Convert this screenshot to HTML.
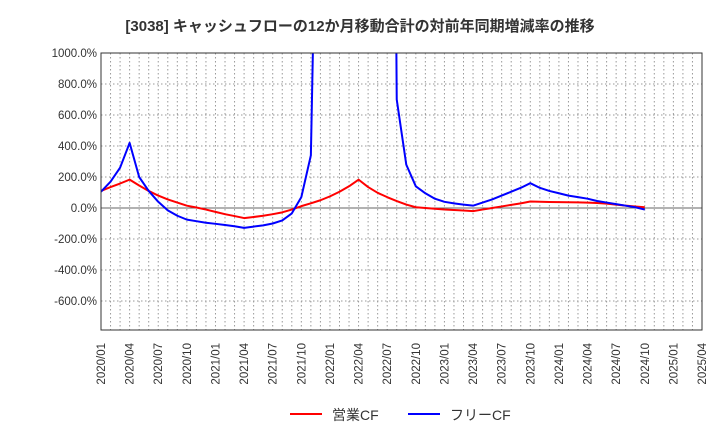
<!DOCTYPE html>
<html><head><meta charset="utf-8"><style>
body{margin:0;background:#fff;}
svg{display:block;font-family:"Liberation Sans","Noto Sans CJK JP",sans-serif;}
</style></head><body>
<svg id="c" width="720" height="440">
<text x="360" y="31" text-anchor="middle" font-size="15" font-weight="bold" fill="#333">[3038]  キャッシュフローの12か月移動合計の対前年同期増減率の推移</text>
<g id="grid"></g><g id="axes"></g>
<defs><clipPath id="clip"><rect x="101" y="53" width="601" height="277"/></clipPath></defs>
<g id="series" clip-path="url(#clip)"></g>
<rect x="101" y="53" width="601" height="277" fill="none" stroke="#333" stroke-width="1"/>
<g>
<line x1="290" y1="414" x2="322" y2="414" stroke="#f00" stroke-width="2"/>
<text x="332" y="420" font-size="14" fill="#333">営業CF</text>
<line x1="408" y1="414" x2="440" y2="414" stroke="#00f" stroke-width="2"/>
<text x="450" y="420" font-size="14" fill="#333">フリーCF</text>
</g>
</svg>
<script>
const yTicks=[1000,800,600,400,200,0,-200,-400,-600];
const xLabels=["2020/01","2020/04","2020/07","2020/10","2021/01","2021/04","2021/07","2021/10","2022/01","2022/04","2022/07","2022/10","2023/01","2023/04","2023/07","2023/10","2024/01","2024/04","2024/07","2024/10","2025/01","2025/04"];
const operatingCF=[110,135,158,183,145,110,80,55,35,15,3,-10,-25,-40,-52,-65,-58,-50,-40,-28,-10,12,30,50,75,105,140,183,135,98,70,45,22,5,0,-5,-10,-13,-16,-20,-10,0,10,20,30,42,40,39,38,37,36,35,32,28,22,15,10,5];
const freeCF=[105,170,260,420,200,110,40,-15,-50,-75,-85,-95,-102,-110,-118,-128,-120,-112,-100,-80,-35,70,340,3500,5000,6000,6000,6000,6000,7000,9000,700,280,140,95,60,40,30,22,15,35,55,80,105,130,160,130,110,95,80,70,60,45,35,25,15,5,-10];
const NS="http://www.w3.org/2000/svg";
const X0=101,X1=702,Y0=53,Y1=330,MONTHS=63;
const xs=m=>X0+m*(X1-X0)/MONTHS;
const ys=v=>208-v*31/200;
function mk(t,a,p){const e=document.createElementNS(NS,t);for(const k in a)e.setAttribute(k,a[k]);p.appendChild(e);return e;}
const grid=document.getElementById('grid'),axes=document.getElementById('axes'),ser=document.getElementById('series');
for(let m=1;m<MONTHS;m++){
 const l=mk('line',{x1:xs(m),x2:xs(m),y1:Y0,y2:Y1,stroke:'#999','stroke-dasharray':'1.5,2.5','stroke-width':1},grid);
 
 
}
yTicks.forEach(v=>{
 const y=ys(v);
 const l=mk('line',{x1:X0,x2:X1,y1:y,y2:y,stroke:v===0?'#666':'#999','stroke-dasharray':v===0?'':'1.5,2.5','stroke-width':1},grid);
 
 
 const t=mk('text',{x:X0-4,y:y+4,'text-anchor':'end','font-size':11.5,fill:'#333'},axes);
 t.textContent=v.toFixed(1)+'%';
 
 
});
xLabels.forEach((s,i)=>{
 const x=xs(i*3)+4;
 const t=mk('text',{x:x,y:343,'text-anchor':'end','font-size':11.5,fill:'#333',transform:`rotate(-90 ${x} 343)`},axes);
 t.textContent=s;
 
 
});
function line(arr,col,name){
 const p=mk('polyline',{points:arr.map((v,i)=>xs(i)+','+ys(v)).join(' '),fill:'none',stroke:col,'stroke-width':2,'stroke-linejoin':'round'},ser);
 
 
}
line(operatingCF,'#f00','operating-cf-line');
line(freeCF,'#00f','free-cf-line');
</script>
</body></html>
